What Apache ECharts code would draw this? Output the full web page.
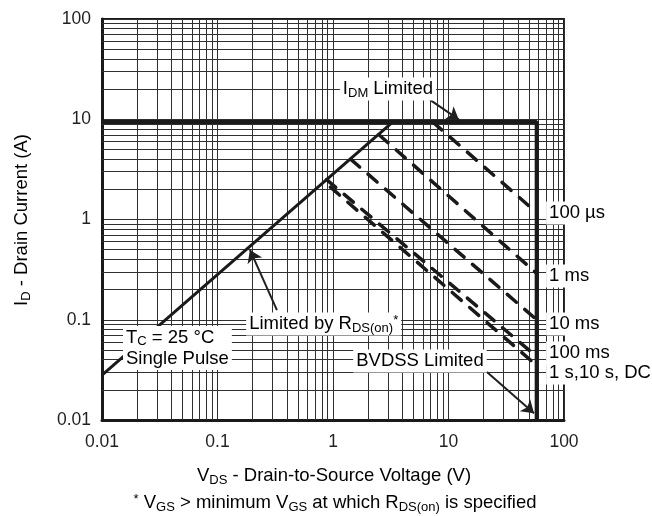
<!DOCTYPE html>
<html><head><meta charset="utf-8">
<script src="https://cdn.jsdelivr.net/npm/echarts@6/dist/echarts.min.js"></script>
<style>html,body{margin:0;padding:0;background:#fff}#c{width:652px;height:516px}</style>
</head><body><div id="c"></div>
<script>
// ---- data ----
const xTicks = [0.01, 0.1, 1, 10, 100];
const yTicks = [0.01, 0.1, 1, 10, 100];
const minorSteps = [2, 3, 4, 5, 6, 7, 8, 9];

// R_DS(on) limit line
const rdsV = [0.01, 3.3];
const rdsI = [0.0281, 9.4];
// I_DM + BVDSS limit
const limitV = [0.01, 58, 58];
const limitI = [9.4, 9.4, 0.01];

// pulse-duration lines
const pulseNames = ['100 µs', '1 ms', '10 ms', '100 ms', '1 s,10 s, DC'];
const pulseV = [[7.3, 58], [2.5, 58], [1.42, 58], [0.88, 58], [0.95, 58]];
const pulseI = [[9.4, 1.17], [7.0, 0.29], [4.0, 0.10], [2.5, 0.043], [2.1, 0.035]];

// annotation labels
const labelText = [
  '{n|I}{s|DM}{n| Limited}',
  '{n|100 µs}',
  '{n|1 ms}',
  '{n|10 ms}',
  '{n|100 ms}',
  '{n|1 s,10 s, DC}',
  '{n|Limited by R}{s|DS(on)}{p|*}',
  '{n|T}{s|C}{n| = 25 °C}\n{n|Single Pulse}',
  '{n|BVDSS Limited}'
];
const labelV = [2.99, 70, 70, 70, 70, 70, 0.177, 0.0152, 5.66];
const labelI = [20, 1.16, 0.273, 0.0908, 0.0466, 0.0294, 0.0908, 0.0522, 0.0388];
const labelAlign = ['center', 'left', 'left', 'left', 'left', 'left', 'left', 'left', 'center'];

// arrows
const arrowFromV = [6.92, 0.327, 21.5];
const arrowFromI = [15.6, 0.125, 0.0301];
const arrowToV = [12.3, 0.191, 55];
const arrowToI = [9.9, 0.497, 0.0117];

// ---- chart ----
const FONT = '"Liberation Sans", Arial, Helvetica, sans-serif';
const TXT = '#231f20';
const GRIDC = '#303030';
const rich = {
  n: { fontSize: 18.5, lineHeight: 21, color: TXT, fontFamily: FONT },
  s: { fontSize: 13, lineHeight: 11, verticalAlign: 'bottom', color: TXT, fontFamily: FONT },
  p: { fontSize: 13, lineHeight: 12, verticalAlign: 'top', color: TXT, fontFamily: FONT }
};

const minorX = [], minorY = [];
for (let i = 0; i < xTicks.length - 1; i++) minorSteps.forEach(m => minorX.push({ xAxis: xTicks[i] * m }));
for (let i = 0; i < yTicks.length - 1; i++) minorSteps.forEach(m => minorY.push({ yAxis: yTicks[i] * m }));

const series = [];
series.push({
  type: 'line', data: [], silent: true,
  markLine: {
    silent: true, symbol: 'none', animation: false, z: 1,
    label: { show: false },
    lineStyle: { type: 'solid', color: GRIDC, width: 1 },
    emphasis: { disabled: true },
    data: minorX.concat(minorY)
  }
});
series.push({
  type: 'line', symbol: 'none', silent: true, z: 5,
  data: rdsV.map((v, i) => [v, rdsI[i]]),
  lineStyle: { color: '#1a1a1a', width: 3 }
});
series.push({
  type: 'line', symbol: 'none', silent: true, z: 5,
  data: limitV.map((v, i) => [v, limitI[i]]),
  lineStyle: { color: '#1a1a1a', width: 4 }
});
pulseNames.forEach((nm, k) => {
  series.push({
    name: nm, type: 'line', symbol: 'none', silent: true, z: 4,
    data: pulseV[k].map((v, i) => [v, pulseI[k][i]]),
    lineStyle: { color: '#1a1a1a', width: 3.5, type: [12, 11], cap: 'round' }
  });
});
series.push({
  type: 'line', data: [], silent: true, z: 6,
  markLine: {
    silent: true, animation: false, symbol: ['none', 'arrow'], symbolSize: 12, z: 6,
    label: { show: false },
    itemStyle: { color: TXT },
    lineStyle: { type: 'solid', color: TXT, width: 2 },
    emphasis: { disabled: true },
    data: arrowFromV.map((v, i) => [{ coord: [v, arrowFromI[i]] }, { coord: [arrowToV[i], arrowToI[i]] }])
  }
});

const axisCommon = {
  type: 'log', logBase: 10, min: 0.01, max: 100, splitNumber: 4,
  axisTick: { show: false },
  axisLine: { show: true, lineStyle: { color: '#1a1a1a', width: 3 } },
  splitLine: { show: true, lineStyle: { color: GRIDC, width: 1 } },
  axisLabel: { fontSize: 17.5, color: TXT, fontFamily: FONT },
  minorSplitLine: { show: false }
};

const titles = [
  {
    type: 'text', x: 22, y: 220, rotation: Math.PI / 2, silent: true,
    style: { text: '{n|I}{s|D}{n| - Drain Current (A)}', rich: rich, align: 'center', verticalAlign: 'middle' }
  },
  {
    type: 'text', x: 334, y: 476, silent: true,
    style: { text: '{n|V}{s|DS}{n| - Drain-to-Source Voltage (V)}', rich: rich, align: 'center', verticalAlign: 'middle' }
  },
  {
    type: 'text', x: 335, y: 503, silent: true,
    style: { text: '{p|*}{n| V}{s|GS}{n| > minimum V}{s|GS}{n| at which R}{s|DS(on)}{n| is specified}', rich: rich, align: 'center', verticalAlign: 'middle' }
  }
];

const chart = echarts.init(document.getElementById('c'), null, { renderer: 'canvas' });
chart.setOption({
  animation: false,
  backgroundColor: '#fff',
  grid: { left: 102, top: 19, right: 88, bottom: 96, show: true, borderColor: '#1a1a1a', borderWidth: 2, containLabel: false },
  xAxis: Object.assign({}, axisCommon, { axisLabel: Object.assign({}, axisCommon.axisLabel, { margin: 13 }) }),
  yAxis: Object.assign({}, axisCommon, { axisLabel: Object.assign({}, axisCommon.axisLabel, { margin: 11 }) }),
  series: series,
  graphic: titles
});

// annotation labels placed through the chart's own scales
const labelGraphics = labelV.map((v, i) => {
  const p = chart.convertToPixel({ gridIndex: 0 }, [v, labelI[i]]);
  return {
    type: 'text', x: p[0], y: p[1], z: 100, silent: true,
    style: {
      text: labelText[i], rich: rich, align: labelAlign[i], verticalAlign: 'middle',
      backgroundColor: '#fff', padding: [1, 3, 1, 3]
    }
  };
});
chart.setOption({ graphic: titles.concat(labelGraphics) });
</script></body></html>
